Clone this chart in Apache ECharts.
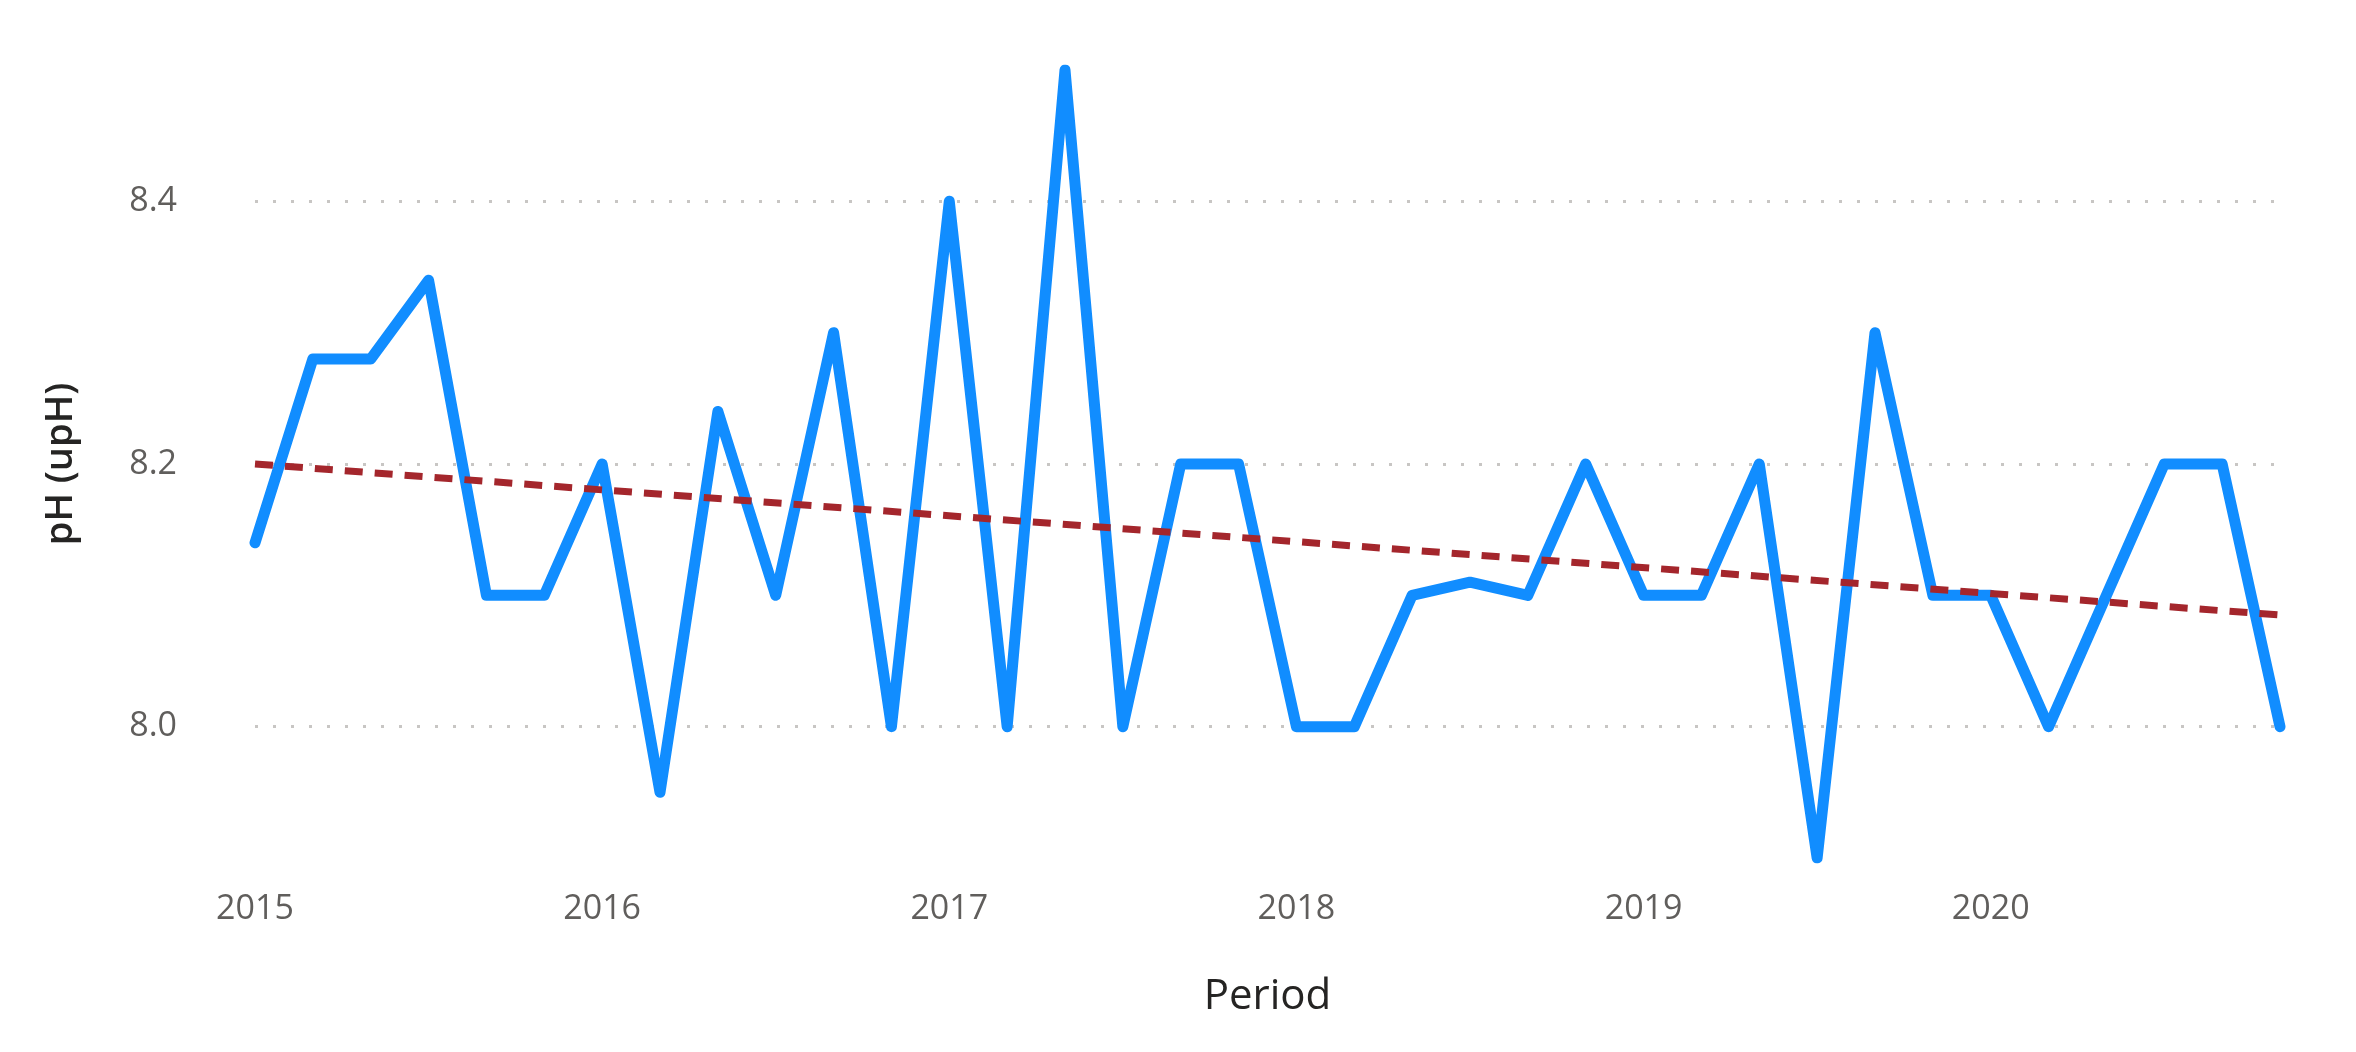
<!DOCTYPE html>
<html><head><meta charset="utf-8">
<script src="https://cdn.jsdelivr.net/npm/echarts@6/dist/echarts.min.js"></script>
<style>html,body{margin:0;padding:0;background:#fff}#c{width:2356px;height:1052px}</style>
</head><body><div id="c"></div>
<script>
const periods = ["2015-01","2015-03","2015-05","2015-07","2015-09","2015-11",
"2016-01","2016-03","2016-05","2016-07","2016-09","2016-11",
"2017-01","2017-03","2017-05","2017-07","2017-09","2017-11",
"2018-01","2018-03","2018-05","2018-07","2018-09","2018-11",
"2019-01","2019-03","2019-05","2019-07","2019-09","2019-11",
"2020-01","2020-03","2020-05","2020-07","2020-09","2020-11"];
const phValues = [8.14,8.28,8.28,8.34,8.10,8.10,
8.20,7.95,8.24,8.10,8.30,8.00,
8.40,8.00,8.50,8.00,8.20,8.20,
8.00,8.00,8.10,8.11,8.10,8.20,
8.10,8.10,8.20,7.90,8.30,8.10,
8.10,8.00,8.10,8.20,8.20,8.00];
const trendPeriods = ["2015-01","2020-11"];
const trendValues = [8.20,8.085];
const yearTicks = [2015,2016,2017,2018,2019,2020];

const toYear = s => { const [y,m] = s.split("-").map(Number); return y + (m-1)/12; };
const chart = echarts.init(document.getElementById('c'));
const font = "Open Sans";
chart.setOption({
  animation:false,
  grid:{left:255,right:76,top:70,bottom:194},
  xAxis:{type:'value',min:yearTicks[0],max:toYear(periods[periods.length-1]),interval:1,
    name:'Period',nameLocation:'middle',nameGap:118,
    nameTextStyle:{fontFamily:font,fontSize:42,color:'#252423'},
    axisLine:{show:false},axisTick:{show:false},splitLine:{show:false},
    axisLabel:{fontFamily:font,fontSize:34,color:'#605E5C',margin:34,
      formatter:v=>yearTicks.includes(Math.round(v*1000)/1000)?String(Math.round(v)):''}},
  yAxis:{type:'value',min:7.9,max:8.5,interval:0.1,
    name:'pH (upH)',nameLocation:'middle',nameGap:175,
    nameTextStyle:{fontFamily:font,fontSize:38,fontWeight:600,color:'#252423'},
    axisLine:{show:false},axisTick:{show:false},
    axisLabel:{fontFamily:font,fontSize:34,color:'#605E5C',margin:78,
      formatter:v=>{const r=Math.round(v*10);return (r===80||r===82||r===84)?v.toFixed(1):'';}},
    splitLine:{show:true,lineStyle:{type:[3,15],width:3,color:['rgba(0,0,0,0)','#C8C6C4']}}},
  series:[
    {type:'line',data:periods.map((p,i)=>[toYear(p),phValues[i]]),symbol:'none',
     lineStyle:{color:'#118DFF',width:11,join:'round',cap:'round'},z:2},
    {type:'line',data:trendPeriods.map((p,i)=>[toYear(p),trendValues[i]]),symbol:'none',
     lineStyle:{color:'#A4262C',width:7,type:[18,12]},z:3}
  ]
});
</script></body></html>
